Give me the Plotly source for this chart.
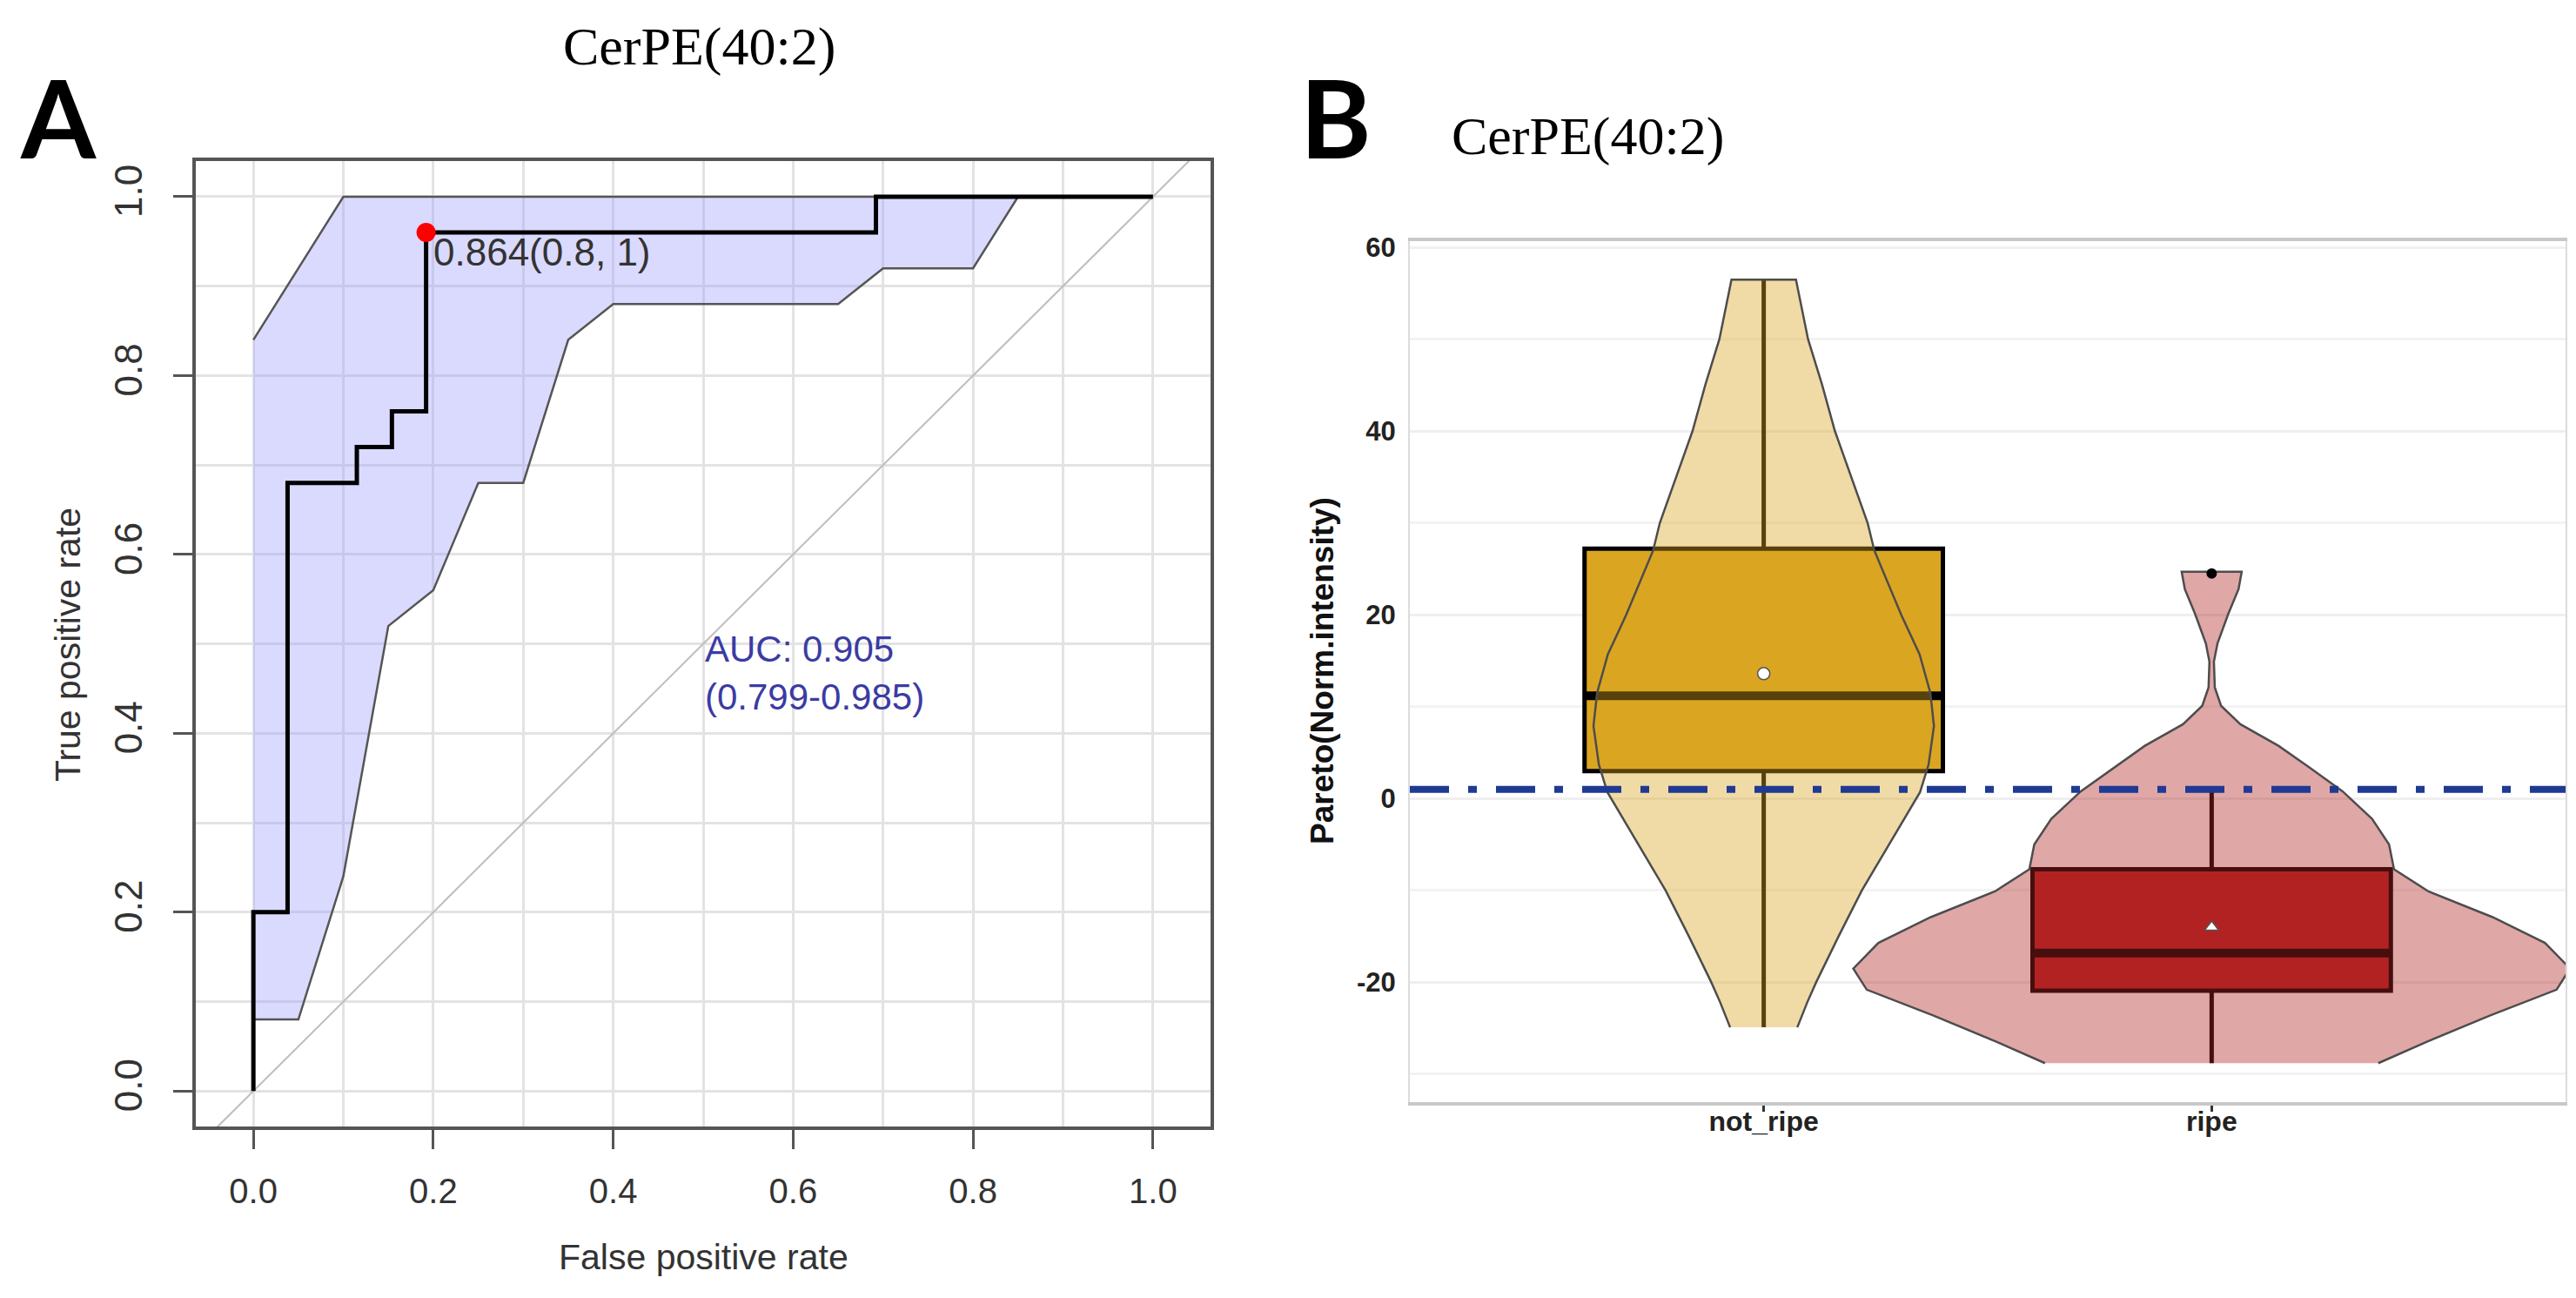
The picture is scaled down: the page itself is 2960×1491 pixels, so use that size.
import plotly.graph_objects as go

W, H = 2960, 1491

# ---------------- panel A: ROC of CerPE(40:2) ----------------
roc_fpr = [0.0, 0.0, 0.038, 0.115, 0.154, 0.192, 0.692, 1.0]
roc_tpr = [0.0, 0.2, 0.68, 0.72, 0.76, 0.96, 1.0, 1.0]

# confidence band of the sensitivity
ci_upper_fpr = [0.0, 0.1, 0.85]
ci_upper_tpr = [0.84, 1.0, 1.0]
ci_lower_fpr = [0.0, 0.05, 0.1, 0.15, 0.2, 0.25, 0.3, 0.35, 0.4, 0.65, 0.7, 0.8, 0.85]
ci_lower_tpr = [0.08, 0.08, 0.24, 0.52, 0.56, 0.68, 0.68, 0.84, 0.88, 0.88, 0.92, 0.92, 1.0]

best_fpr = [0.192]
best_tpr = [0.96]
best_label = "0.864(0.8, 1)"
auc_label = "AUC: 0.905<br>(0.799-0.985)"
chance_line = [-0.1, 1.1]
roc_ticks = [0.0, 0.2, 0.4, 0.6, 0.8, 1.0]

# ---------------- panel B: violin + box ----------------
groups = ["not_ripe", "ripe"]
group_pos = [1, 2]
box_q1 = [3.0, -20.9]
box_median = [11.2, -16.8]
box_q3 = [27.2, -7.7]
box_lower = [-24.9, -28.8]
box_upper = [56.5, 0.7]
group_mean = [13.6, -14.0]
ripe_outlier = [24.5]
threshold = 1.0
pareto_ticks = [-20, 0, 20, 40, 60]
pareto_labels = ["-20", "0", "20", "40", "60"]

# violin outline: level (y) and half width (in category units)
not_ripe_levels = [-24.9, -22.2, -20, -15, -10, -5.3, 0.7, 3.7, 7.9, 11.5, 15.7,
                   20, 27, 30, 40, 45.1, 50, 56.5]
not_ripe_half = [0.075, 0.097, 0.117, 0.167, 0.219, 0.276, 0.349, 0.368, 0.380, 0.372,
                 0.348, 0.307, 0.247, 0.232, 0.159, 0.13, 0.099, 0.072]
ripe_levels = [-28.8, -26.4, -23.6, -20.8, -18.5, -15.7, -12.9, -10.1, -7.7, -5.0, -2.2,
               0.8, 3.4, 5.75, 8.1, 10.1, 12.1, 14.9, 16.9, 20.1, 22.8, 24.7]
ripe_half = [0.372, 0.484, 0.622, 0.77, 0.80, 0.744, 0.627, 0.484, 0.407, 0.396, 0.358,
             0.292, 0.218, 0.149, 0.064, 0.021, 0.007, 0.005, 0.013, 0.037, 0.060, 0.067]

box_width = 0.8
colors = ["#DAA520", "#B22222"]
violin_fill = ["rgba(218,165,32,0.4)", "rgba(178,34,34,0.4)"]
mean_symbol = ["circle", "triangle-up"]

fig = go.Figure()

# --- A
fig.add_trace(go.Scatter(
    x=ci_upper_fpr + ci_lower_fpr[::-1],
    y=ci_upper_tpr + ci_lower_tpr[::-1],
    fill="toself", fillcolor="rgba(150,150,255,0.35)",
    mode="lines", line=dict(color="#555555", width=2.5),
    xaxis="x", yaxis="y", hoverinfo="skip"))
fig.add_trace(go.Scatter(
    x=chance_line, y=chance_line, mode="lines",
    line=dict(color="#bdbdbd", width=2), xaxis="x", yaxis="y", hoverinfo="skip"))
fig.add_trace(go.Scatter(
    x=roc_fpr, y=roc_tpr, mode="lines", line=dict(color="black", width=5, shape="hv"),
    xaxis="x", yaxis="y"))
fig.add_trace(go.Scatter(
    x=best_fpr, y=best_tpr, mode="markers",
    marker=dict(color="red", size=22), xaxis="x", yaxis="y"))

# --- B: boxes first (they sit under the see-through violins)
for i, g in enumerate(groups):
    fig.add_trace(go.Box(
        x=[group_pos[i]], q1=[box_q1[i]], median=[box_median[i]], q3=[box_q3[i]],
        lowerfence=[box_lower[i]], upperfence=[box_upper[i]],
        width=box_width, whiskerwidth=0, fillcolor=colors[i],
        line=dict(color="black", width=5), name=g,
        xaxis="x2", yaxis="y2", hoverinfo="skip"))

for i, g in enumerate(groups):
    fig.add_trace(go.Scatter(
        x=[group_pos[i] - box_width / 2, group_pos[i] + box_width / 2],
        y=[box_median[i], box_median[i]], mode="lines",
        line=dict(color="black", width=10), xaxis="x2", yaxis="y2", hoverinfo="skip"))

violins = [(not_ripe_levels, not_ripe_half), (ripe_levels, ripe_half)]
for i, (lv, hw) in enumerate(violins):
    c = group_pos[i]
    xs = [c + w for w in hw] + [c - w for w in hw[::-1]]
    ys = lv + lv[::-1]
    fig.add_trace(go.Scatter(
        x=xs, y=ys, fill="toself", fillcolor=violin_fill[i], mode="lines",
        line=dict(color="#4d4d4d", width=2.5),
        xaxis="x2", yaxis="y2", hoverinfo="skip"))

for i, g in enumerate(groups):
    fig.add_trace(go.Scatter(
        x=[group_pos[i]], y=[group_mean[i]], mode="markers",
        marker=dict(symbol=mean_symbol[i], size=14, color="white",
                    line=dict(color="#555555", width=1.5)),
        xaxis="x2", yaxis="y2"))

fig.add_trace(go.Scatter(
    x=[group_pos[1]] * len(ripe_outlier), y=ripe_outlier, mode="markers",
    marker=dict(color="black", size=12), xaxis="x2", yaxis="y2"))

fig.add_shape(type="line", xref="x2 domain", yref="y2", x0=0, x1=1,
              y0=threshold, y1=threshold, layer="above",
              line=dict(color="#1f3a93", width=8, dash="45px,22px,10px,22px"))


def px(x):
    return x / W


def py(y):
    return 1 - y / H


grid_a = "#e3e3e3"
fig.update_layout(
    width=W, height=H, autosize=False,
    margin=dict(l=0, r=0, t=0, b=0),
    paper_bgcolor="white", plot_bgcolor="white",
    font=dict(family="Liberation Sans", color="#333333"),
    showlegend=False, boxmode="overlay",
    xaxis=dict(
        domain=[px(217), px(1383)], range=[-0.064, 1.064], anchor="y",
        tickvals=roc_ticks, tickformat=".1f", ticks="outside", ticklen=22, tickwidth=3,
        tickcolor="#555555", ticklabelstandoff=14,
        tickfont=dict(size=40, color="#333333"),
        showgrid=True, gridcolor=grid_a, gridwidth=3,
        minor=dict(dtick=0.1, tick0=0, showgrid=True, gridcolor=grid_a, gridwidth=3),
        zeroline=False, showline=True, mirror=True, linecolor="#555555", linewidth=4),
    yaxis=dict(
        domain=[py(1285), py(168)], range=[-0.04, 1.04], anchor="x",
        tickvals=roc_ticks, tickformat=".1f", ticks="outside", ticklen=22, tickwidth=3,
        tickcolor="#555555", tickangle=-90, ticklabelstandoff=18,
        tickfont=dict(size=44, color="#333333"),
        showgrid=True, gridcolor=grid_a, gridwidth=3,
        minor=dict(dtick=0.1, tick0=0, showgrid=True, gridcolor=grid_a, gridwidth=3),
        zeroline=False, showline=True, mirror=True, linecolor="#555555", linewidth=4),
    xaxis2=dict(
        domain=[px(1612), px(2940)], range=[0.21, 2.79], anchor="y2",
        tickvals=group_pos, ticktext=groups, ticks="outside", ticklen=7, tickwidth=3,
        tickcolor="#333333", ticklabelstandoff=-16,
        tickfont=dict(size=32, color="#222222", weight="bold"),
        showgrid=False, zeroline=False,
        showline=True, mirror=True, linecolor="#c8c8c8", linewidth=4),
    yaxis2=dict(
        domain=[py(1256), py(261)], range=[-33.0, 60.66], anchor="x2",
        tickvals=pareto_ticks, ticktext=pareto_labels,
        ticks="outside", ticklen=8, tickcolor="rgba(0,0,0,0)",
        tickfont=dict(size=31, color="#222222", weight="bold"),
        showgrid=True, gridcolor="#efefef", gridwidth=2.5,
        minor=dict(dtick=10, showgrid=True, gridcolor="#f3f3f3", gridwidth=2.5),
        zeroline=False, showline=True, mirror=True, linecolor="#dcdcdc", linewidth=2),
)

serif = "Liberation Serif"
ann = [
    dict(text="CerPE(40:2)", x=px(795), y=py(36), xanchor="center", yanchor="middle",
         font=dict(family=serif, size=62, color="black")),
    dict(text="CerPE(40:2)", x=px(1658), y=py(139), xanchor="left", yanchor="middle",
         font=dict(family=serif, size=62, color="black")),
    dict(text="<b>A</b>", x=px(59), y=py(117), xanchor="center", yanchor="middle",
         font=dict(family="Lato", size=124, color="black")),
    dict(text="<b>B</b>", x=px(1527), y=py(117), xanchor="center", yanchor="middle",
         font=dict(family="Lato", size=124, color="black")),
    dict(text="False positive rate", x=px(800), y=py(1436), xanchor="center",
         yanchor="middle", font=dict(size=41, color="#333333")),
    dict(text="True positive rate", x=px(70), y=py(728), xanchor="center",
         yanchor="middle", textangle=-90, font=dict(size=41, color="#333333")),
    dict(text="<b>Pareto(Norm.intensity)</b>", x=px(1512), y=py(758), xanchor="center",
         yanchor="middle", textangle=-90, font=dict(size=37, color="#111111")),
]
for a in ann:
    a.update(xref="paper", yref="paper", showarrow=False)
    fig.add_annotation(**a)

fig.add_annotation(text=auc_label, xref="x", yref="y", x=0.5, y=0.468,
                   xanchor="left", yanchor="middle", align="left", showarrow=False,
                   font=dict(size=42, color="#3b3ba3"))
fig.add_annotation(text=best_label, xref="x", yref="y", x=best_fpr[0] + 0.006, y=0.938,
                   xanchor="left", yanchor="middle", showarrow=False,
                   font=dict(size=44, color="#333333"))

fig.write_html("out.html")
